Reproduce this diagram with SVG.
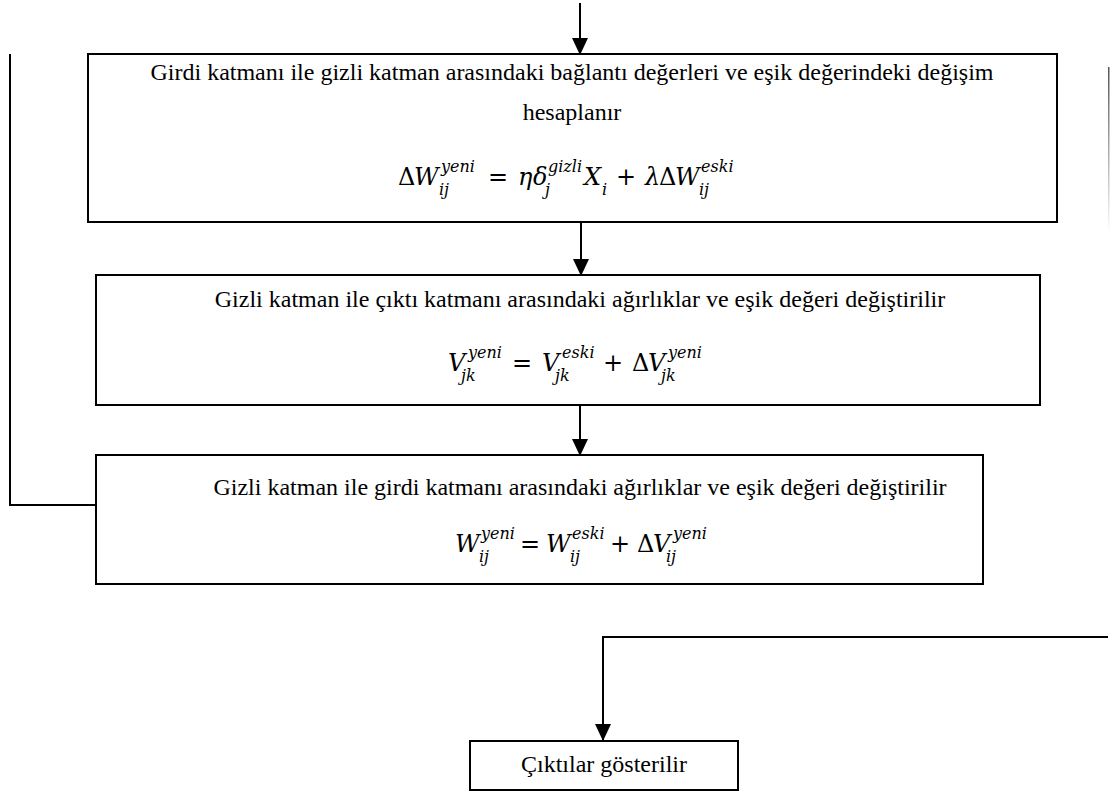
<svg xmlns="http://www.w3.org/2000/svg" width="1110" height="805" viewBox="0 0 1110 805">
  <defs>
    <style>
      .box { fill: #fff; stroke: #000; stroke-width: 2; }
      .wire { fill: none; stroke: #000; stroke-width: 2; }
      .lbl { font-family: "Liberation Serif", "Times New Roman", serif; font-size: 24px; fill: #000; text-anchor: middle; }
      .m { font-family: "DejaVu Serif", "Liberation Serif", serif; font-style: italic; font-size: 24px; fill: #000; }
      .up { font-style: normal; }
      .s { font-size: 16px; }
    </style>
    <marker id="arrow" markerUnits="userSpaceOnUse" markerWidth="17" markerHeight="16" refX="16" refY="8" orient="auto">
      <path d="M0,0 L17,8 L0,16 z" fill="#000"/>
    </marker>
    <linearGradient id="edgeFade" x1="0" y1="0" x2="0" y2="1">
      <stop offset="0" stop-color="#555"/>
      <stop offset="1" stop-color="#fff"/>
    </linearGradient>
  </defs>

  <rect width="1110" height="805" fill="#fff"/>

  <!-- connectors -->
  <g id="connectors">
    <line class="wire" x1="580" y1="3" x2="580" y2="54" marker-end="url(#arrow)"/>
    <line class="wire" x1="581" y1="222" x2="581" y2="275" marker-end="url(#arrow)"/>
    <line class="wire" x1="580" y1="405" x2="580" y2="455" marker-end="url(#arrow)"/>
    <polyline class="wire" points="97,505 10,505 10,54"/>
    <polyline class="wire" points="1108,637 603,637 603,740" marker-end="url(#arrow)"/>
    <rect x="1108" y="67" width="1.5" height="165" fill="url(#edgeFade)"/>
  </g>

  <!-- input-to-hidden weight change -->
  <g id="delta-w">
    <rect class="box" x="88" y="54" width="969" height="168"/>
    <text class="lbl" x="572" y="80">Girdi katmanı ile gizli katman arasındaki bağlantı değerleri ve eşik değerindeki değişim</text>
    <text class="lbl" x="572" y="120">hesaplanır</text>
    <text class="m">
      <tspan class="up" x="398" y="185">Δ</tspan><tspan x="414" y="185">W</tspan>
      <tspan class="s" x="441" y="172">yeni</tspan><tspan class="s" x="439" y="195">ij</tspan>
      <tspan class="up" x="488" y="185">=</tspan>
      <tspan x="518" y="185">η</tspan><tspan x="533" y="185">δ</tspan>
      <tspan class="s" x="548" y="172">gizli</tspan><tspan class="s" x="545" y="195">j</tspan>
      <tspan x="584" y="185">X</tspan><tspan class="s" x="602" y="195">i</tspan>
      <tspan class="up" x="616" y="185">+</tspan>
      <tspan x="645" y="185">λ</tspan><tspan class="up" x="659" y="185">Δ</tspan><tspan x="675" y="185">W</tspan>
      <tspan class="s" x="701" y="172">eski</tspan><tspan class="s" x="699" y="195">ij</tspan>
    </text>
  </g>

  <!-- hidden-to-output weight update -->
  <g id="update-v">
    <rect class="box" x="96" y="275" width="944" height="130"/>
    <text class="lbl" x="580" y="307">Gizli katman ile çıktı katmanı arasındaki ağırlıklar ve eşik değeri değiştirilir</text>
    <text class="m">
      <tspan x="448" y="371">V</tspan>
      <tspan class="s" x="468" y="358">yeni</tspan><tspan class="s" x="461" y="381">jk</tspan>
      <tspan class="up" x="512" y="371">=</tspan>
      <tspan x="542" y="371">V</tspan>
      <tspan class="s" x="562" y="358">eski</tspan><tspan class="s" x="555" y="381">jk</tspan>
      <tspan class="up" x="603" y="371">+</tspan>
      <tspan class="up" x="632" y="371">Δ</tspan><tspan x="648" y="371">V</tspan>
      <tspan class="s" x="668" y="358">yeni</tspan><tspan class="s" x="661" y="381">jk</tspan>
    </text>
  </g>

  <!-- hidden-to-input weight update -->
  <g id="update-w">
    <rect class="box" x="96" y="455" width="887" height="129"/>
    <text class="lbl" x="580" y="495">Gizli katman ile girdi katmanı arasındaki ağırlıklar ve eşik değeri değiştirilir</text>
    <text class="m">
      <tspan x="455" y="552">W</tspan>
      <tspan class="s" x="481" y="539">yeni</tspan><tspan class="s" x="479" y="562">ij</tspan>
      <tspan class="up" x="520" y="552">=</tspan>
      <tspan x="546" y="552">W</tspan>
      <tspan class="s" x="572" y="539">eski</tspan><tspan class="s" x="570" y="562">ij</tspan>
      <tspan class="up" x="610" y="552">+</tspan>
      <tspan class="up" x="637" y="552">Δ</tspan><tspan x="653" y="552">V</tspan>
      <tspan class="s" x="673" y="539">yeni</tspan><tspan class="s" x="666" y="562">ij</tspan>
    </text>
  </g>

  <!-- output -->
  <g id="outputs">
    <rect class="box" x="470" y="741" width="268" height="49"/>
    <text class="lbl" x="604" y="772">Çıktılar gösterilir</text>
  </g>
</svg>
